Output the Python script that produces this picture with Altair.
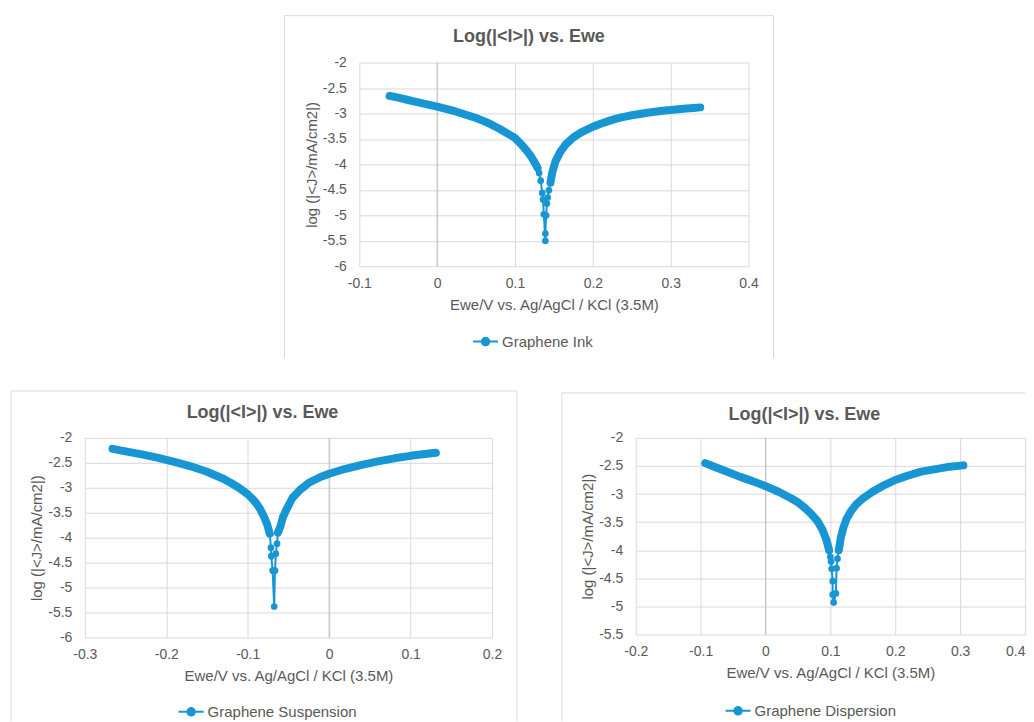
import altair as alt
import pandas as pd

BLUE = "#1896d4"
GRID = "#d9d9d9"
AXIS0 = "#bfbfbf"
TEXT = "#595959"
FONT = "Liberation Sans"

TITLE = "Log(|<I>|) vs. Ewe"
X_TITLE = "Ewe/V vs. Ag/AgCl / KCl (3.5M)"
Y_TITLE = "log (|<J>/mA/cm2|)"

# ---------------- Graphene Ink (top) ----------------
ink_name = "Graphene Ink"
ink_cath_E = [-0.061, -0.05, -0.04, -0.03, -0.02, -0.01, 0.0, 0.01, 0.02, 0.03, 0.04, 0.05,
              0.06, 0.07, 0.08, 0.09, 0.10, 0.105, 0.11, 0.115, 0.12, 0.124, 0.127, 0.129]
ink_cath_J = [-2.655, -2.69, -2.725, -2.76, -2.795, -2.83, -2.865, -2.905, -2.945, -2.99, -3.04, -3.09,
              -3.15, -3.22, -3.30, -3.39, -3.48, -3.56, -3.64, -3.73, -3.83, -3.93, -4.01, -4.07]
ink_tip_E = [0.131, 0.133, 0.135, 0.136, 0.137, 0.139, 0.139, 0.140, 0.141, 0.142, 0.1435]
ink_tip_J = [-4.17, -4.32, -4.56, -4.69, -4.98, -5.50, -5.36, -5.00, -4.77, -4.65, -4.51]
ink_anod_E = [0.1455, 0.148, 0.152, 0.158, 0.165, 0.175, 0.185, 0.20, 0.21, 0.22, 0.23, 0.24,
              0.25, 0.26, 0.27, 0.28, 0.29, 0.30, 0.31, 0.32, 0.33, 0.338]
ink_anod_J = [-4.36, -4.15, -3.94, -3.76, -3.61, -3.47, -3.37, -3.26, -3.20, -3.15, -3.10, -3.065,
              -3.035, -3.01, -2.985, -2.965, -2.945, -2.93, -2.915, -2.90, -2.89, -2.88]

# ---------------- Graphene Suspension (bottom left) ----------------
sus_name = "Graphene Suspension"
sus_cath_E = [-0.266, -0.25, -0.23, -0.21, -0.19, -0.17, -0.15, -0.13, -0.12, -0.11, -0.10,
              -0.095, -0.09, -0.085, -0.08, -0.076, -0.073]
sus_cath_J = [-2.22, -2.27, -2.33, -2.40, -2.48, -2.57, -2.68, -2.82, -2.91, -3.01, -3.13,
              -3.21, -3.30, -3.42, -3.58, -3.74, -3.92]
sus_tip_E = [-0.0715, -0.071, -0.0695, -0.0675, -0.0665, -0.0655, -0.064]
sus_tip_J = [-4.20, -4.37, -4.66, -5.38, -4.66, -4.32, -4.12]
sus_anod_E = [-0.063, -0.060, -0.057, -0.052, -0.045, -0.035, -0.025, -0.01, 0.0, 0.02, 0.04,
              0.06, 0.08, 0.10, 0.115, 0.131]
sus_anod_J = [-3.90, -3.78, -3.60, -3.42, -3.20, -3.03, -2.90, -2.78, -2.72, -2.62, -2.54,
              -2.47, -2.41, -2.36, -2.33, -2.30]

# ---------------- Graphene Dispersion (bottom right) ----------------
dis_name = "Graphene Dispersion"
dis_cath_E = [-0.093, -0.08, -0.06, -0.04, -0.02, 0.0, 0.02, 0.04, 0.05, 0.06, 0.07, 0.08,
              0.088, 0.094, 0.098]
dis_cath_J = [-2.45, -2.51, -2.60, -2.69, -2.77, -2.86, -2.96, -3.08, -3.15, -3.24, -3.35, -3.48,
              -3.64, -3.82, -4.00]
dis_tip_E = [0.100, 0.101, 0.102, 0.1035, 0.1035, 0.105, 0.1085, 0.1095, 0.111]
dis_tip_J = [-4.12, -4.20, -4.33, -4.55, -4.79, -4.93, -4.77, -4.32, -4.15]
dis_anod_E = [0.113, 0.116, 0.12, 0.125, 0.132, 0.14, 0.15, 0.165, 0.18, 0.20, 0.22, 0.24,
              0.26, 0.28, 0.305]
dis_anod_J = [-4.00, -3.78, -3.60, -3.44, -3.30, -3.18, -3.08, -2.96, -2.86, -2.75, -2.67, -2.60,
              -2.56, -2.52, -2.49]

ink_xticks = [-0.1, 0, 0.1, 0.2, 0.3, 0.4]
sus_xticks = [-0.3, -0.2, -0.1, 0, 0.1, 0.2]
dis_xticks = [-0.2, -0.1, 0, 0.1, 0.2, 0.3, 0.4]
yticks_6 = [-6, -5.5, -5, -4.5, -4, -3.5, -3, -2.5, -2]
yticks_55 = [-5.5, -5, -4.5, -4, -3.5, -3, -2.5, -2]

LEG_PATH = "M-1,0L1,0M-0.3,0A0.3,0.3,0,1,1,0.3,0A0.3,0.3,0,1,1,-0.3,0Z"


def panel(key, name, cE, cJ, tE, tJ, aE, aJ, xticks, yticks, w, h, frame, title_xy, legend_xy,
          last_right=False, draw_right=True):
    sfield = "series_" + key
    rows = []
    i = 0
    for seg, Es, Js in (("cathodic", cE, cJ), ("tip", tE, tJ), ("anodic", aE, aJ)):
        for e, j in zip(Es, Js):
            rows.append({"E": e, "J": j, "seg": seg, "i": i, sfield: name})
            i += 1
    df = pd.DataFrame(rows)

    xa = dict(values=xticks, labelExpr="'' + datum.value", grid=True, gridColor=GRID, gridWidth=1,
              domain=False, ticks=False, labelPadding=10, labelFontSize=14, labelColor=TEXT,
              labelFont=FONT, titleFont=FONT, titleFontSize=15, titleColor=TEXT,
              titleFontWeight="normal", titlePadding=7, labelFlush=False, labelOverlap=False)
    if last_right:
        xa["labelAlign"] = {"condition": {"test": "datum.value > 0.35", "value": "right"}, "value": "center"}
    ya = dict(values=yticks, labelExpr="'' + datum.value", grid=True, gridColor=GRID, gridWidth=1,
              domain=False, ticks=False, labelPadding=13, labelFontSize=14, labelColor=TEXT,
              labelFont=FONT, titleFont=FONT, titleFontSize=15, titleColor=TEXT,
              titleFontWeight="normal", titlePadding=3, labelOverlap=False)

    x_enc = alt.X("E:Q", title=X_TITLE,
                  scale=alt.Scale(domain=[xticks[0], xticks[-1]], nice=False, zero=False),
                  axis=alt.Axis(**xa))
    y_enc = alt.Y("J:Q", title=Y_TITLE,
                  scale=alt.Scale(domain=[yticks[0], yticks[-1]], nice=False, zero=False),
                  axis=alt.Axis(**ya))

    one = pd.DataFrame({"k": [0]})
    x1, x2, y1, y2 = frame
    segs = [(x1, x2, y1, y1), (x1, x1, y1, y2)]
    if draw_right:
        segs.append((x2, x2, y1, y2))
    layers = []
    for a, b, c, d in segs:
        layers.append(alt.Chart(one).mark_rule(color=GRID, strokeWidth=1).encode(
            x=alt.value(a), x2=alt.value(b), y=alt.value(c), y2=alt.value(d)))

    zero_rule = alt.Chart(pd.DataFrame({"E": [0.0]})).mark_rule(
        color=AXIS0, strokeWidth=1).encode(x=x_enc)

    band = alt.Chart(df).transform_filter("datum.seg != 'tip'").mark_line(
        color=BLUE, strokeWidth=8, strokeCap="round", strokeJoin="round").encode(
        x=x_enc, y=y_enc, detail="seg:N", order="i:Q")
    thin = alt.Chart(df).mark_line(color=BLUE, strokeWidth=2).encode(
        x=x_enc, y=y_enc, order="i:Q")
    pts = alt.Chart(df).mark_circle(size=45, opacity=1).encode(
        x=x_enc, y=y_enc,
        color=alt.Color(sfield + ":N", scale=alt.Scale(domain=[name], range=[BLUE]),
                        legend=alt.Legend(orient="none", legendX=legend_xy[0], legendY=legend_xy[1],
                                          direction="horizontal", title=None, padding=0,
                                          symbolType=LEG_PATH, symbolSize=625,
                                          symbolStrokeWidth=2, symbolStrokeColor=BLUE,
                                          symbolFillColor=BLUE, symbolOpacity=1,
                                          labelFont=FONT, labelFontSize=15, labelColor=TEXT,
                                          labelOffset=3)))

    title = alt.Chart(pd.DataFrame({"t": [TITLE]})).mark_text(
        font=FONT, fontSize=18, fontWeight="bold", color=TEXT, align="center",
        baseline="alphabetic").encode(x=alt.value(title_xy[0]), y=alt.value(title_xy[1]), text="t:N")

    return alt.layer(*layers, zero_rule, band, thin, pts, title).properties(width=w, height=h)


top = panel("ink", ink_name, ink_cath_E, ink_cath_J, ink_tip_E, ink_tip_J, ink_anod_E, ink_anod_J,
            ink_xticks, yticks_6, 390, 204, (-75, 415, -47, 296), (170, -21), (113, 266))
bl = panel("sus", sus_name, sus_cath_E, sus_cath_J, sus_tip_E, sus_tip_J, sus_anod_E, sus_anod_J,
           sus_xticks, yticks_6, 408, 200, (-74, 433, -47, 284), (178, -20), (93, 261))
br = panel("dis", dis_name, dis_cath_E, dis_cath_J, dis_tip_E, dis_tip_J, dis_anod_E, dis_anod_J,
           dis_xticks, yticks_55, 390, 197, (-74, 390, -45, 284), (169, -18), (89, 260),
           last_right=True, draw_right=False)

spacer = alt.Chart(pd.DataFrame({"k": [0]})).mark_rect(opacity=0).encode(
    x=alt.value(0), x2=alt.value(199), y=alt.value(0), y2=alt.value(1)).properties(width=199, height=1)

top_row = alt.hconcat(spacer, top, spacing=0).resolve_scale(color="independent")
bottom_row = alt.hconcat(bl, br, spacing=43).resolve_scale(color="independent")

chart = alt.vconcat(top_row, bottom_row, spacing=31).resolve_scale(
    color="independent"
).properties(
    padding={"left": 2, "top": 6, "right": 0, "bottom": 0}
).configure(font=FONT).configure_view(strokeOpacity=0)

chart.save("out.html", embed_options={"renderer": "svg", "actions": False})
